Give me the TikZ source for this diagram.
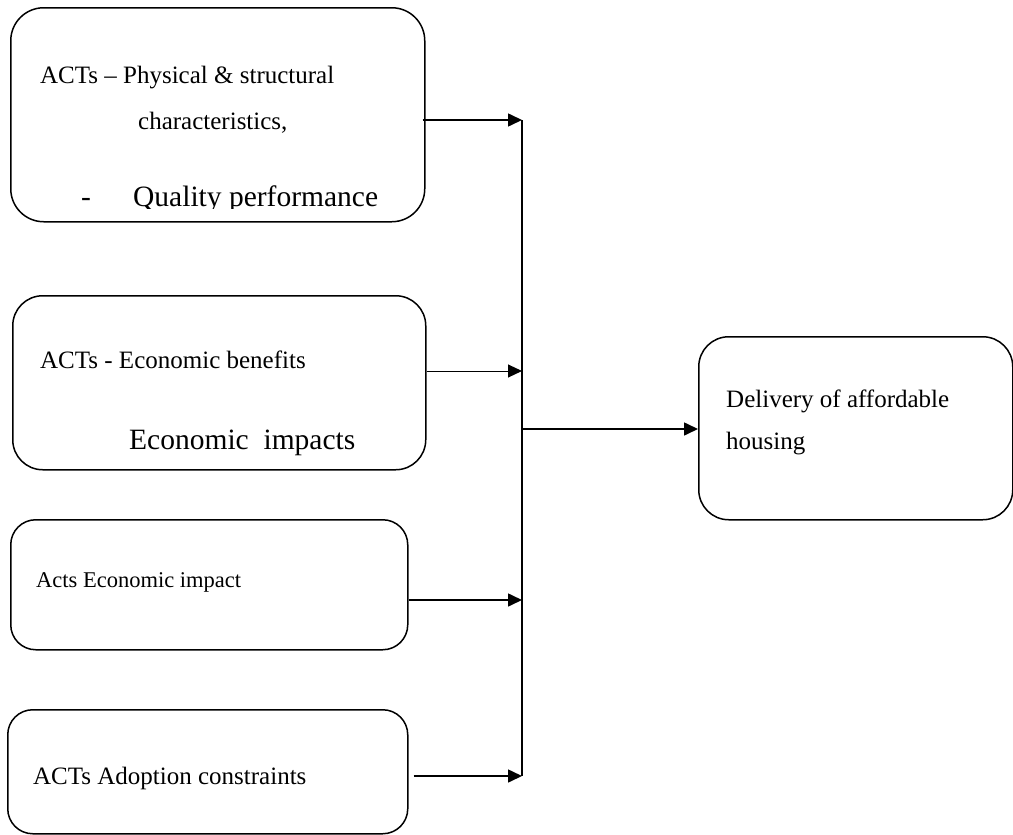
\documentclass[tikz,border=0pt]{standalone}
\usepackage{fontspec}
\setmainfont{Liberation Serif}
\usetikzlibrary{arrows.meta}
\begin{document}
\begin{tikzpicture}[x=1pt,y=-1pt,
  box/.style={draw,line width=1.5pt,rounded corners=#1,inner sep=0pt,anchor=north west},
  txt/.style={inner sep=0pt,anchor=base west,font=\fontsize{25}{30}\selectfont},
  bigtxt/.style={inner sep=0pt,anchor=base west,font=\fontsize{29.5}{34}\selectfont},
  smalltxt/.style={inner sep=0pt,anchor=base west,font=\fontsize{22.5}{27}\selectfont},
  conn/.style={line width=1.6pt},
  arr/.style={line width=1.6pt,-{Triangle[length=14pt,width=13pt]}}]
\useasboundingbox (0,0) rectangle (1013,835);
% boxes
\node[box=33pt,minimum width=414pt,minimum height=214pt] (b1) at (10,7) {};
\node[box=30pt,minimum width=413pt,minimum height=174pt] (b2) at (12,295) {};
\node[box=25pt,minimum width=397pt,minimum height=130pt] (b3) at (10,519) {};
\node[box=25pt,minimum width=400pt,minimum height=124pt] (b4) at (7,709) {};
\node[box=30pt,minimum width=314pt,minimum height=183pt] (b5) at (698,336) {};
% texts
\node[txt] (t1a) at (40,83) {ACTs – Physical \& structural};
\node[txt] (t1b) at (138,129) {characteristics,};
\begin{scope}
  \clip (0,0) rectangle (1013,208.5);
  \node[bigtxt] (t1d) at (81,206) {-};
  \node[bigtxt] (t1c) at (133,206) {Quality performance};
\end{scope}
\node[txt] (t2a) at (40,368) {ACTs - Economic benefits};
\node[bigtxt] (t2b) at (129,449) {Economic\ \ impacts};
\node[smalltxt] (t3a) at (36,587) {Acts Economic impact};
\node[txt] (t4a) at (33,784) {ACTs Adoption constraints};
\node[txt] (t5a) at (726,407) {Delivery of affordable};
\node[txt] (t5b) at (726,449) {housing};
% junction points on the collector line
\coordinate (j1) at (522,120);
\coordinate (j2) at (522,371);
\coordinate (j3) at (522,600);
\coordinate (j4) at (522,776);
\coordinate (jo) at (522,429);
% connectors
\draw[conn] (j1) -- (j4);
\draw[arr] ([xshift=-3pt]b1.east |- j1) -- (j1);
\draw[arr,line width=1pt] (b2.east |- j2) -- (j2);
\draw[arr] (b3.east |- j3) -- (j3);
\draw[arr] ([xshift=5pt]b4.east |- j4) -- (j4);
\draw[arr] (jo) -- (b5.west |- jo);
\end{tikzpicture}
\end{document}
